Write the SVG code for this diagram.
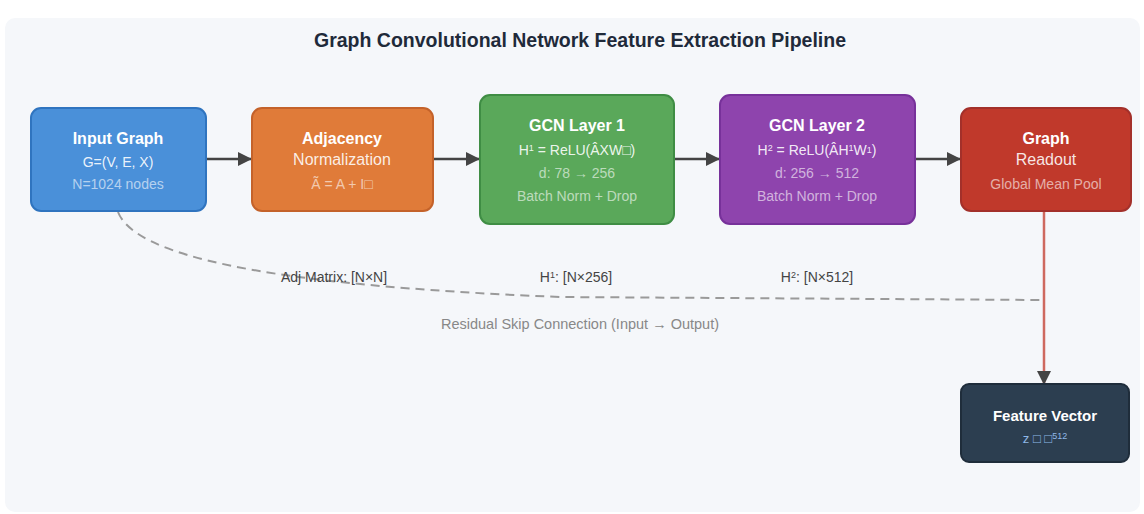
<svg xmlns="http://www.w3.org/2000/svg" width="1144" height="514" viewBox="0 0 1144 514">
  <style>
    text { font-family: "Liberation Sans", Arial, sans-serif; text-anchor: middle; }
    .title { font-size: 19.5px; font-weight: bold; fill: #1f2a3a; }
    .h { font-size: 16px; font-weight: bold; fill: #ffffff; }
    .s { font-size: 16px; fill: #ffffff; fill-opacity: 0.88; }
    .l1 { font-size: 14px; fill: #ffffff; fill-opacity: 0.9; }
    .l2 { font-size: 14px; fill: #ffffff; fill-opacity: 0.6; }
    .dim { font-size: 14px; fill: #444444; }
    .note { font-size: 14.5px; fill: #888888; }
    .flow { stroke: #444444; stroke-width: 2.5; fill: none; }
    .sup { font-size: 9px; }
  </style>
  <defs>
    <marker id="arrow" markerWidth="14" markerHeight="14" refX="13" refY="7" orient="auto" markerUnits="userSpaceOnUse" viewBox="0 0 14 14">
      <path d="M0,0 L14,7 L0,14 z" fill="#444444"/>
    </marker>
  </defs>

  <rect x="0" y="0" width="1144" height="514" fill="#ffffff"/>
  <rect x="5" y="18" width="1135" height="494" rx="10" fill="#f5f7fa"/>

  <text class="title" x="580" y="47">Graph Convolutional Network Feature Extraction Pipeline</text>

  <g id="connectors">
    <path class="flow" d="M206,159 L251,159" marker-end="url(#arrow)"/>
    <path class="flow" d="M433,159 L479,159" marker-end="url(#arrow)"/>
    <path class="flow" d="M674,159 L719,159" marker-end="url(#arrow)"/>
    <path class="flow" d="M915,159 L960,159" marker-end="url(#arrow)"/>
    <path d="M118,212 C135,255 260,285 560,297 L1044,300" fill="none" stroke="#9a9a9a" stroke-width="2" stroke-dasharray="9,6"/>
    <path d="M1044,212 L1044,384" fill="none" stroke="#c0392b" stroke-opacity="0.75" stroke-width="2.5" marker-end="url(#arrow)"/>
    <text class="dim" x="334" y="282">Adj Matrix: [N×N]</text>
    <text class="dim" x="576" y="282">H<tspan class="sup" dy="-4">1</tspan><tspan dy="4">: [N×256]</tspan></text>
    <text class="dim" x="817" y="282">H<tspan class="sup" dy="-4">2</tspan><tspan dy="4">: [N×512]</tspan></text>
    <text class="note" x="580" y="329">Residual Skip Connection (Input → Output)</text>
  </g>

  <g id="input-graph">
    <rect x="31" y="108" width="175" height="103" rx="10" fill="#4a90d9" stroke="#2f74bf" stroke-width="2"/>
    <text class="h" x="118" y="144">Input Graph</text>
    <text class="l1" x="118" y="167">G=(V, E, X)</text>
    <text class="l2" x="118" y="189">N=1024 nodes</text>
  </g>

  <g id="adjacency">
    <rect x="252" y="108" width="181" height="103" rx="10" fill="#e07b39" stroke="#c4622a" stroke-width="2"/>
    <text class="h" x="342" y="144">Adjacency</text>
    <text class="s" x="342" y="165">Normalization</text>
    <text class="l2" x="342" y="189">Ã = A + I□</text>
  </g>

  <g id="gcn-layer-1">
    <rect x="480" y="95" width="194" height="129" rx="10" fill="#5aa85a" stroke="#3f8d44" stroke-width="2"/>
    <text class="h" x="577" y="131">GCN Layer 1</text>
    <text class="l1" x="577" y="155">H<tspan class="sup" dy="-4">1</tspan><tspan dy="4"> = ReLU(ÂXW□)</tspan></text>
    <text class="l2" x="577" y="178">d: 78 → 256</text>
    <text class="l2" x="577" y="201">Batch Norm + Drop</text>
  </g>

  <g id="gcn-layer-2">
    <rect x="720" y="95" width="195" height="129" rx="10" fill="#8e44ad" stroke="#77319a" stroke-width="2"/>
    <text class="h" x="817" y="131">GCN Layer 2</text>
    <text class="l1" x="817" y="155">H<tspan class="sup" dy="-4">2</tspan><tspan dy="4"> = ReLU(ÂH</tspan><tspan class="sup" dy="-4">1</tspan><tspan dy="4">W</tspan><tspan class="sup" dy="-2">1</tspan><tspan dy="2">)</tspan></text>
    <text class="l2" x="817" y="178">d: 256 → 512</text>
    <text class="l2" x="817" y="201">Batch Norm + Drop</text>
  </g>

  <g id="graph-readout">
    <rect x="961" y="108" width="170" height="103" rx="10" fill="#c0392b" stroke="#a3302a" stroke-width="2"/>
    <text class="h" x="1046" y="144">Graph</text>
    <text class="s" x="1046" y="165">Readout</text>
    <text class="l2" x="1046" y="189">Global Mean Pool</text>
  </g>

  <g id="feature-vector">
    <rect x="961" y="384" width="168" height="78" rx="8" fill="#2c3e50" stroke="#1f2d3b" stroke-width="2"/>
    <text x="1045" y="421" style="font-size:15px;font-weight:bold;fill:#ffffff">Feature Vector</text>
    <text x="1045" y="443" style="font-size:13px;fill:#8fb8e8">z □ □<tspan class="sup" dy="-4">512</tspan></text>
  </g>
</svg>
